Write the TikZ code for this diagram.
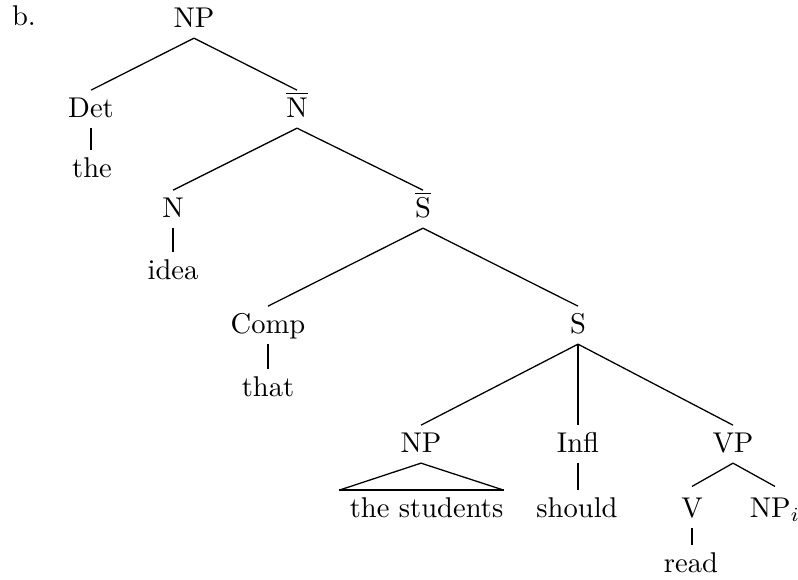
\documentclass[tikz,border=0pt]{standalone}
\begin{document}
\begin{tikzpicture}[x=0.35pt,y=-0.35pt,
  cat/.style={anchor=base,inner sep=3pt,text height=6.2pt,text depth=0.7pt},
  branch/.style={line width=0.45pt},
  stem/.style={line width=0.6pt}]
\useasboundingbox (0,0) rectangle (798,579);
\node[anchor=base] (lbl) at (24,25) {b.};
% upper spine
\node[cat] (np0)  at (194,27)  {NP};
\node[cat] (det)  at (91,117)  {Det};
\node[cat] (the)  at (92,177)  {the};
\node[cat] (nbar) at (297,117) {$\overline{\mathrm{N}}$};
\node[cat] (n)    at (173,217) {N};
\node[cat] (idea) at (173,279) {idea};
\node[cat] (sbar) at (423,217) {$\overline{\mathrm{S}}$};
\node[cat] (comp) at (268,333) {Comp};
\node[cat] (that) at (268,396) {that};
\node[cat] (s)    at (578,333) {S};
% clause level
\node[cat] (np1)  at (421,452) {NP};
\node[cat,inner xsep=0pt] (stud) at (426.5,517) {the students};
\node[cat] (infl) at (578,452) {Infl};
\node[cat] (shd)  at (577,517) {should};
\node[cat] (vp)   at (733,452) {VP};
\node[cat,text height=7.5pt] (v)    at (692,517) {V};
\node[cat,text height=7.5pt] (npi)  at (775,517) {NP$_i$};
\node[cat] (read) at (691,572) {read};
% branches
\draw[branch] (np0.south) -- (det.north);
\draw[branch] (np0.south) -- (nbar.north);
\draw[stem]   (det.south) -- (det.south |- the.north);
\draw[branch] (nbar.south) -- (n.north);
\draw[branch] (nbar.south) -- (sbar.north);
\draw[stem]   (n.south) -- (n.south |- idea.north);
\draw[branch] (sbar.south) -- (comp.north);
\draw[branch] (sbar.south) -- (s.north);
\draw[stem]   (comp.south) -- (comp.south |- that.north);
\draw[branch] (s.south) -- (np1.north);
\draw[stem]   (s.south) -- (s.south |- infl.north);
\draw[branch] (s.south) -- (vp.north);
\draw[stem]   (infl.south) -- (infl.south |- shd.north);
\draw[branch] (vp.south) -- (v.north);
\draw[branch] (vp.south) -- (npi.north);
\draw[stem]   (v.south) -- (v.south |- read.north);
% roof over the unanalysed NP
\draw[branch] ([xshift=-3.5pt]stud.north west) -- (np1.south) -- (stud.north east);
\draw[stem]   ([xshift=-3.5pt]stud.north west) -- (stud.north east);
\end{tikzpicture}
\end{document}
